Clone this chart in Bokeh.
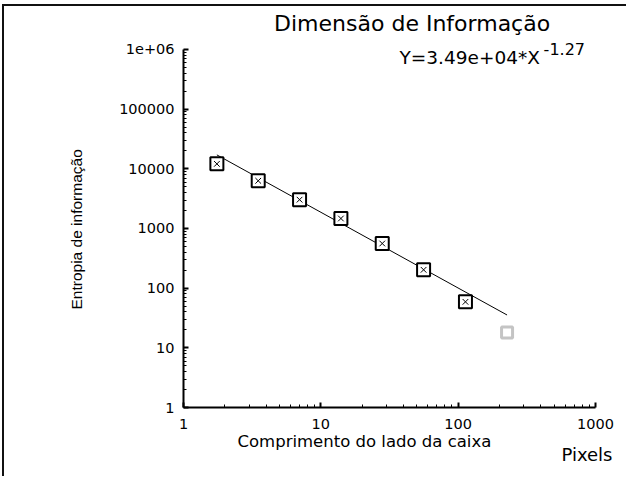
from bokeh.plotting import figure
from bokeh.models import FixedTicker, Label, Title
from bokeh.layouts import column
from bokeh.embed import file_html
from bokeh.resources import INLINE

# ---- data ----
box_size = [1.75, 3.5, 7.0, 14.0, 28.0, 56.0, 113.0]
entropy = [12100, 6300, 3040, 1470, 560, 203, 59]
excluded_size = [227]
excluded_entropy = [18]
fit_x = [1.75, 227]
fit_y = [17100, 35.5]
x_ticks = [1, 10, 100, 1000]
x_tick_labels = ["1", "10", "100", "1000"]
y_ticks = [1, 10, 100, 1000, 10000, 100000, 1000000]
y_tick_labels = ["1", "10", "100", "1000", "10000", "100000", "1e+06"]

title_text = "Dimensão de Informação"
equation_text = "Y=3.49e+04*X"
equation_exp = "-1.27"
x_label = "Comprimento do lado da caixa"
y_label = "Entropia de informação"
unit_text = "Pixels"

FONT = "DejaVu Sans"

p = figure(width=622, height=470, x_axis_type="log", y_axis_type="log",
           x_range=(1, 1000), y_range=(1, 10 ** 6.72),
           output_backend="svg", toolbar_location=None,
           min_border_left=179, min_border_right=31,
           min_border_top=0, min_border_bottom=69)
p.outline_line_color = None
p.grid.visible = False
p.background_fill_color = "white"
p.border_fill_color = "white"

minor_x = [m * 10 ** k for k in range(3) for m in range(2, 10)]
minor_y = [m * 10 ** k for k in range(6) for m in range(2, 10)]
p.xaxis.ticker = FixedTicker(ticks=x_ticks, minor_ticks=minor_x)
p.yaxis.ticker = FixedTicker(ticks=y_ticks, minor_ticks=minor_y)
p.xaxis.major_label_overrides = dict(zip(x_ticks, x_tick_labels))
p.yaxis.major_label_overrides = dict(zip(y_ticks, y_tick_labels))
p.yaxis.bounds = (1, 1000000)

for ax in (p.xaxis, p.yaxis):
    ax.axis_line_width = 2
    ax.axis_line_color = "black"
    ax.major_tick_in = 5
    ax.major_tick_out = 0
    ax.minor_tick_in = 3
    ax.minor_tick_out = 0
    ax.major_tick_line_width = 2
    ax.minor_tick_line_width = 1
    ax.major_tick_line_color = "black"
    ax.minor_tick_line_color = "black"
    ax.major_label_text_font = FONT
    ax.major_label_text_font_size = "14.5px"
    ax.major_label_text_color = "black"

p.xaxis.major_label_standoff = 11
p.yaxis.major_label_standoff = 9

# axis titles
p.add_layout(Title(text=y_label, align="left", offset=98, standoff=64,
                   text_font="Liberation Sans", text_font_size="15.5px",
                   text_font_style="normal", text_color="#000000"), "left")
p.add_layout(Title(text=x_label, align="left", offset=54, standoff=-4,
                   text_font=FONT, text_font_size="16.5px",
                   text_font_style="normal", text_color="black"), "below")
p.add_layout(Title(text=unit_text, align="right", offset=-17, standoff=-14,
                   text_font=FONT, text_font_size="18px",
                   text_font_style="normal", text_color="black"), "below")

# fit line and points
p.line(fit_x, fit_y, line_color="black", line_width=1)
p.scatter(box_size, entropy, marker="square", size=13, line_color="black",
          line_width=2, fill_color="white")
p.scatter(box_size, entropy, marker="x", size=8, line_color="black", line_width=1)
p.scatter(excluded_size, excluded_entropy, marker="square", size=11,
          line_color="#c4c4c4", line_width=3, fill_color="white")

# title and equation inside the (extended) frame
p.add_layout(Label(x=46.2, y=10 ** 6.435, text=title_text, text_align="center",
                   text_baseline="middle", text_font=FONT,
                   text_font_size="22px", text_color="black"))
p.add_layout(Label(x=37.4, y=7.33e5, text=equation_text, text_align="left",
                   text_baseline="middle", text_font=FONT,
                   text_font_size="18.5px", text_color="black"))
p.add_layout(Label(x=419, y=1.0e6, text=equation_exp, text_align="left",
                   text_baseline="middle", text_font=FONT,
                   text_font_size="16px", text_color="black"))

layout = column(p, margin=(4, 0, 0, 2),
                styles={"border-left": "2px solid #111",
                        "border-top": "2px solid #111"})

open("out.html", "w").write(file_html(layout, INLINE))
